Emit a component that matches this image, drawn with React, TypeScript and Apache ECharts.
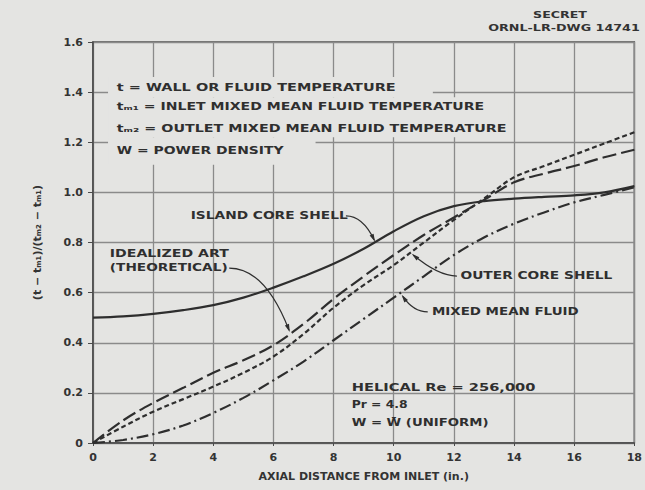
import React, { useEffect, useRef } from "react";
import * as echarts from "echarts";

// ---- data ----
const axialDistance = [0, 1, 2, 3, 4, 5, 6, 7, 8, 9, 10, 11, 12, 13, 14, 15, 16, 17, 18];
const islandCoreShell = [0.5, 0.505, 0.515, 0.53, 0.55, 0.58, 0.62, 0.665, 0.715, 0.775, 0.845, 0.905, 0.945, 0.965, 0.975, 0.982, 0.988, 1.0, 1.025];
const idealizedArt = [0, 0.09, 0.16, 0.22, 0.28, 0.33, 0.39, 0.475, 0.575, 0.665, 0.75, 0.83, 0.9, 0.97, 1.04, 1.075, 1.105, 1.14, 1.17];
const outerCoreShell = [0, 0.065, 0.125, 0.175, 0.225, 0.28, 0.345, 0.435, 0.54, 0.63, 0.71, 0.8, 0.89, 0.975, 1.06, 1.105, 1.15, 1.195, 1.24];
const mixedMeanFluid = [0, 0.012, 0.035, 0.07, 0.12, 0.18, 0.25, 0.325, 0.41, 0.495, 0.58, 0.665, 0.75, 0.82, 0.875, 0.92, 0.96, 0.99, 1.02];

const xTicks = { min: 0, max: 18, interval: 2 };
const yTicks = { min: 0, max: 1.6, interval: 0.2 };

const legendLines = [
  "t = WALL OR FLUID TEMPERATURE",
  "tₘ₁ = INLET MIXED MEAN FLUID TEMPERATURE",
  "tₘ₂ = OUTLET MIXED MEAN FLUID TEMPERATURE",
  "W = POWER DENSITY",
];
const conditionLines = ["HELICAL Re = 256,000", "Pr = 4.8", "W = W̄ (UNIFORM)"];

const W = 645;
const H = 490;
const BG = "#e4e4e2";
const INK = "#2e2e2e";
const FAM = '"DejaVu Sans", "Liberation Sans", sans-serif';

export default function App() {
  const ref = useRef<HTMLDivElement>(null);

  useEffect(() => {
    document.body.style.margin = "0";
    document.body.style.background = BG;
    const chart = echarts.init(ref.current!, null, { renderer: "svg", width: W, height: H });

    const mk = (name: string, vals: number[], type: any, width: number) => ({
      type: "line",
      name,
      data: axialDistance.map((x, i) => [x, vals[i]]),
      smooth: 0.35,
      symbol: "none",
      z: 5,
      lineStyle: { color: INK, width, type },
    });

    const labelStyle = { fontFamily: FAM, fontWeight: "bold", fontSize: 11, color: "#333" };

    chart.setOption({
      animation: false,
      backgroundColor: BG,
      grid: {
        left: 93,
        right: 4,
        top: 42,
        bottom: 47,
        show: true,
        borderColor: "#4a4a4a",
        borderWidth: 1.5,
        backgroundColor: "transparent",
      },
      xAxis: {
        type: "value",
        ...xTicks,
        name: "AXIAL DISTANCE FROM INLET (in.)",
        nameLocation: "middle",
        nameGap: 28,
        nameTextStyle: { ...labelStyle, fontSize: 11 },
        axisLine: { show: true, lineStyle: { color: "#4a4a4a", width: 1.5 } },
        axisTick: { show: true, length: 3, lineStyle: { color: "#4a4a4a" } },
        axisLabel: { ...labelStyle, margin: 9, showMaxLabel: true },
        splitLine: { show: true, lineStyle: { color: "#8a8a8a", width: 1.3 } },
      },
      yAxis: {
        type: "value",
        ...yTicks,
        name: "(t − tₘ₁)/(tₘ₂ − tₘ₁)",
        nameLocation: "middle",
        nameRotate: 90,
        nameGap: 50,
        nameTextStyle: { ...labelStyle, fontSize: 11 },
        axisLine: { show: true, lineStyle: { color: "#4a4a4a", width: 1.5 } },
        axisTick: { show: true, length: 5, lineStyle: { color: "#4a4a4a" } },
        axisLabel: {
          ...labelStyle,
          margin: 10,
          formatter: (v: number) => (v === 0 ? "0" : v.toFixed(1)),
        },
        splitLine: { show: true, lineStyle: { color: "#8a8a8a", width: 1.3 } },
      },
      series: [
        mk("Island core shell", islandCoreShell, "solid", 2.2),
        mk("Idealized ART (theoretical)", idealizedArt, [14, 5], 2.2),
        mk("Outer core shell", outerCoreShell, [5, 3], 2.2),
        mk("Mixed mean fluid", mixedMeanFluid, [12, 4, 2, 4], 2.2),
      ],
    });

    const px = (x: number, y: number) => chart.convertToPixel({ gridIndex: 0 }, [x, y]) as number[];

    const canvas = document.createElement("canvas");
    const ctx = canvas.getContext("2d")!;
    const measure = (text: string, size: number) => {
      ctx.font = `bold ${size}px ${FAM}`;
      return ctx.measureText(text).width;
    };

    const els: any[] = [];

    // masks (white-washed areas behind the key text)
    const mask = (x0: number, x1: number, y0: number, y1: number) => {
      const a = px(x0, y0);
      const b = px(x1, y1);
      els.push({
        type: "rect",
        z: 3,
        silent: true,
        shape: { x: a[0], y: a[1], width: b[0] - a[0], height: b[1] - a[1] },
        style: { fill: BG },
      });
    };
    mask(0.5, 11.3, 1.46, 1.38);
    mask(0.5, 13.8, 1.38, 1.22);
    mask(0.5, 7.4, 1.22, 1.11);

    const txt = (text: string, x: number, y: number, targetW: number, size = 10) => {
      const p = px(x, y);
      const w = measure(text, size);
      els.push({
        type: "text",
        z: 20,
        x: p[0],
        y: p[1],
        scaleX: targetW / w,
        style: {
          text,
          fontFamily: FAM,
          fontWeight: "bold",
          fontSize: size,
          fill: "#2f2f2f",
          textAlign: "left",
          textVerticalAlign: "middle",
          align: "left",
          verticalAlign: "middle",
        },
      });
    };

    // key block
    const keyY = [1.417, 1.341, 1.253, 1.165];
    const keyW = [279, 368, 390, 167];
    legendLines.forEach((t, i) => txt(t, 0.79, keyY[i], keyW[i]));

    // conditions block
    const condY = [0.223, 0.152, 0.08];
    const condW = [184, 56, 137];
    conditionLines.forEach((t, i) => txt(t, 8.6, condY[i], condW[i]));

    // curve labels
    txt("ISLAND CORE SHELL", 3.25, 0.906, 157);
    txt("IDEALIZED ART", 0.56, 0.754, 119);
    txt("(THEORETICAL)", 0.56, 0.698, 118);
    txt("OUTER CORE SHELL", 12.22, 0.666, 152);
    txt("MIXED MEAN FLUID", 11.27, 0.523, 147);

    // leader lines with arrow heads
    const leader = (s: number[], c1: number[], c2: number[], e: number[]) => {
      const S = px(s[0], s[1]);
      const C1 = px(c1[0], c1[1]);
      const C2 = px(c2[0], c2[1]);
      const E = px(e[0], e[1]);
      els.push({
        type: "bezierCurve",
        z: 20,
        shape: { x1: S[0], y1: S[1], cpx1: C1[0], cpy1: C1[1], cpx2: C2[0], cpy2: C2[1], x2: E[0], y2: E[1] },
        style: { stroke: INK, lineWidth: 1.2, fill: "none" },
      });
      let dx = E[0] - C2[0];
      let dy = E[1] - C2[1];
      const len = Math.hypot(dx, dy) || 1;
      dx /= len;
      dy /= len;
      const tip = [E[0] + dx * 2, E[1] + dy * 2];
      const base = [E[0] - dx * 6, E[1] - dy * 6];
      const pr = [-dy * 2.2, dx * 2.2];
      els.push({
        type: "polygon",
        z: 21,
        shape: {
          points: [tip, [base[0] + pr[0], base[1] + pr[1]], [base[0] - pr[0], base[1] - pr[1]]],
        },
        style: { fill: INK },
      });
    };
    leader([8.41, 0.906], [8.84, 0.906], [9.15, 0.86], [9.35, 0.81]);
    leader([4.53, 0.698], [5.5, 0.698], [6.1, 0.58], [6.52, 0.45]);
    leader([12.1, 0.666], [11.6, 0.666], [11.05, 0.71], [10.65, 0.75]);
    leader([11.13, 0.523], [10.75, 0.523], [10.5, 0.55], [10.3, 0.585]);

    // drawing number stamp
    const stamp = (text: string, cx: number, cy: number, w: number) => {
      const ww = measure(text, 8);
      els.push({
        type: "text",
        z: 20,
        x: cx,
        y: cy,
        scaleX: w / ww,
        style: {
          text,
          fontFamily: FAM,
          fontWeight: "bold",
          fontSize: 8,
          fill: "#333",
          textAlign: "center",
          textVerticalAlign: "middle",
          align: "center",
          verticalAlign: "middle",
        },
      });
    };
    stamp("SECRET", 560, 15, 54);
    stamp("ORNL-LR-DWG 14741", 564, 28, 152);

    chart.setOption({ graphic: { elements: els } });

    return () => chart.dispose();
  }, []);

  return <div ref={ref} style={{ position: "fixed", left: 0, top: 0, width: W, height: H }} />;
}
